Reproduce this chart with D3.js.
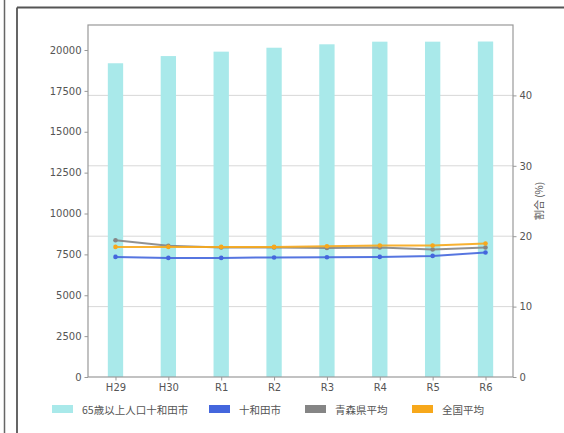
<!DOCTYPE html>
<html><head><meta charset="utf-8">
<script src="https://cdn.jsdelivr.net/npm/d3@7"></script>
<style>html,body{margin:0;padding:0;background:#fff;}svg{display:block;font-family:"DejaVu Sans","Noto Sans CJK JP",sans-serif;}</style>
</head><body>
<script>
const categories = ["H29","H30","R1","R2","R3","R4","R5","R6"];
const population65 = [19190,19630,19900,20140,20350,20510,20510,20520];
const towada = [17.06,16.92,16.92,16.98,17.02,17.06,17.2,17.69];
const aomori = [19.43,18.63,18.4,18.4,18.34,18.4,18.11,18.4];
const national = [18.48,18.48,18.48,18.48,18.58,18.68,18.68,18.96];
const leftTicks = [0,2500,5000,7500,10000,12500,15000,17500,20000];
const rightTicks = [0,10,20,30,40];
const legendLabels = ["65歳以上人口十和田市","十和田市","青森県平均","全国平均"];
const rightLabel = "割合 (%)";

const W=564,H=433;
const svg=d3.select("body").append("svg").attr("width",W).attr("height",H);
// outer frame lines
svg.append("line").attr("x1",4.5).attr("x2",4.5).attr("y1",0).attr("y2",H).attr("stroke","#666").attr("stroke-width",1.5);
svg.append("line").attr("x1",17).attr("x2",17).attr("y1",7.5).attr("y2",H).attr("stroke","#555").attr("stroke-width",1.8);
svg.append("line").attr("x1",17).attr("x2",W).attr("y1",7.5).attr("y2",7.5).attr("stroke","#555").attr("stroke-width",1.8);

const L=88,R=513,T=25,B=377;
const x=d3.scaleLinear().domain([-0.52,7.52]).range([L,R]);
const yL=d3.scaleLinear().domain([0,21530]).range([B,T]);
const yR=d3.scaleLinear().domain([0,50]).range([B,T]);
const bw=(x(1)-x(0))*0.29;

// grid (right axis)
svg.append("g").selectAll("line").data(rightTicks.filter(d=>d>0)).join("line")
 .attr("x1",L).attr("x2",R).attr("y1",d=>yR(d)).attr("y2",d=>yR(d)).attr("stroke","#d4d4d4").attr("stroke-width",0.9);

// bars
svg.append("g").selectAll("rect").data(population65).join("rect")
 .attr("x",(d,i)=>x(i)-bw/2).attr("width",bw).attr("y",d=>yL(d)).attr("height",d=>B-yL(d)).attr("fill","#a9e9ea");

// lines
const series=[{v:towada,c:"#4466dd"},{v:aomori,c:"#858585"},{v:national,c:"#f7a81b"}];
const line=d3.line().x((d,i)=>x(i)).y(d=>yR(d));
series.forEach(s=>{
 svg.append("path").datum(s.v).attr("d",line).attr("fill","none").attr("stroke",s.c).attr("stroke-width",2).attr("opacity",0.9);
 svg.append("g").selectAll("circle").data(s.v).join("circle").attr("cx",(d,i)=>x(i)).attr("cy",d=>yR(d)).attr("r",2.3).attr("fill",s.c);
});

// frame
svg.append("rect").attr("x",L).attr("y",T).attr("width",R-L).attr("height",B-T).attr("fill","none").attr("stroke","#999").attr("stroke-width",1.2);

// axes
const fs="10px", tc="#555";
const gl=svg.append("g").attr("transform",`translate(${L},0)`).call(d3.axisLeft(yL).tickValues(leftTicks).tickSize(3.5).tickPadding(3).tickFormat(d3.format("d")));
const gr=svg.append("g").attr("transform",`translate(${R},0)`).call(d3.axisRight(yR).tickValues(rightTicks).tickSize(3.5).tickPadding(3));
const gb=svg.append("g").attr("transform",`translate(0,${B})`).call(d3.axisBottom(x).tickValues(d3.range(categories.length)).tickFormat(i=>categories[i]).tickSize(3.5).tickPadding(3));
[gl,gr,gb].forEach(g=>{g.select(".domain").remove();g.selectAll("line").attr("stroke","#999");g.selectAll("text").attr("fill",tc).style("font-size",fs).style("font-family","'DejaVu Sans',sans-serif");});

svg.append("text").attr("transform","translate(543,201) rotate(-90)").attr("text-anchor","middle").attr("fill",tc).style("font-size","10px").style("font-family","'Noto Sans CJK JP',sans-serif").text(rightLabel);

// legend
const legX=[52,209,305,412];
const legC=["#a9e9ea","#4466dd","#858585","#f7a81b"];
legendLabels.forEach((t,i)=>{
 svg.append("rect").attr("x",legX[i]).attr("y",405).attr("width",21).attr("height",8).attr("fill",legC[i]);
 svg.append("text").attr("x",legX[i]+30).attr("y",413.5).attr("fill",tc).style("font-size","10.5px").style("font-family","'Noto Sans CJK JP',sans-serif").text(t);
});
</script>
</body></html>
